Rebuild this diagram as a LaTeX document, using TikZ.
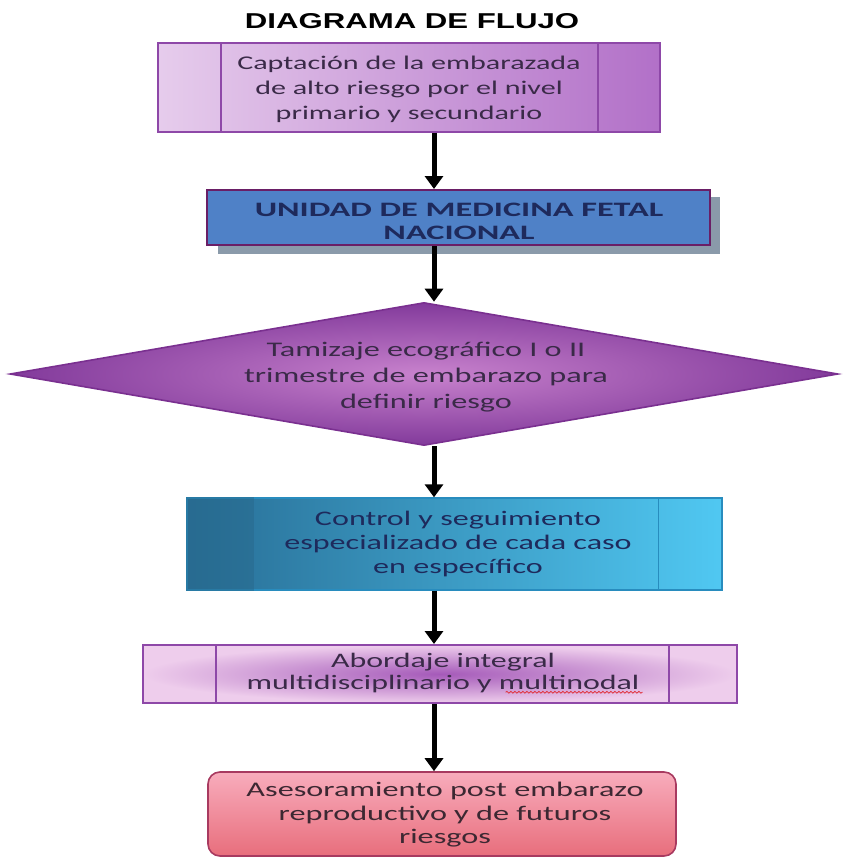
\documentclass[tikz,border=0pt]{standalone}
\usepackage{fontspec}
\usetikzlibrary{arrows.meta,shapes.geometric,calc,decorations.pathmorphing}
\newfontfamily\bodyfont{Carlito}[FakeStretch=1.55]
\newfontfamily\capsfont{Carlito}[FakeStretch=1.67]
\newfontfamily\titlefont{Liberation Sans}[FakeStretch=1.45]
\definecolor{txtpurple}{HTML}{3A2A48}
\definecolor{txtnavy}{HTML}{1E2A5C}
\definecolor{purpborder}{HTML}{8E48A8}
\definecolor{b1left}{HTML}{E6CCEC}
\definecolor{b1right}{HTML}{B270C8}
\definecolor{b2fill}{HTML}{4F81C7}
\definecolor{b2border}{HTML}{6A1E66}
\definecolor{b2shadow}{HTML}{8A9AAA}
\definecolor{dborder}{HTML}{7A3090}
\definecolor{dinner}{HTML}{C882CD}
\definecolor{douter}{HTML}{823A9B}
\definecolor{b4border}{HTML}{288CBE}
\definecolor{b4left}{HTML}{286E96}
\definecolor{b4right}{HTML}{50C8F2}
\definecolor{b4strip}{HTML}{28698C}
\definecolor{b5inner}{HTML}{A55AB9}
\definecolor{b5outer}{HTML}{EECDEC}
\definecolor{b6border}{HTML}{A83A60}
\definecolor{b6top}{HTML}{F8ACBC}
\definecolor{b6bottom}{HTML}{E86E7C}
\definecolor{b6text}{HTML}{3C2832}
\definecolor{spellred}{HTML}{E0303A}
\tikzset{
  arr/.style={line width=5pt,-{Triangle[width=18pt,length=13pt]}},
  boxtext/.style={align=center,inner sep=0pt},
}
\begin{document}
\begin{tikzpicture}[x=1pt,y=-1pt]
\useasboundingbox (0,0) rectangle (845,860);
\coordinate (axis) at (434,0);
% title
\node (title) at (412,21) {\titlefont\bfseries\fontsize{21.5}{24}\selectfont DIAGRAMA DE FLUJO};
% box 1 predefined process
\node[draw=purpborder,line width=1.6pt,left color=b1left,right color=b1right,
  minimum width=502pt,minimum height=89pt,inner sep=0pt] (b1) at (409,87.5) {};
\draw[purpborder,line width=1.6pt] ($(b1.north west)+(64,0)$) -- ($(b1.south west)+(64,0)$);
\draw[purpborder,line width=1.6pt] ($(b1.north east)+(-63,0)$) -- ($(b1.south east)+(-63,0)$);
\node[boxtext,text=txtpurple,font=\bodyfont\fontsize{19.4}{25}\selectfont] (t1) at (409,89) {Captación de la embarazada\\de alto riesgo por el nivel\\primario y secundario};
% box 2
\fill[b2shadow] (218,197) rectangle (720,254);
\node[draw=b2border,line width=2pt,fill=b2fill,
  minimum width=503pt,minimum height=55pt,inner sep=0pt] (b2) at (458.5,217.5) {};
\node[boxtext,text=txtnavy,font=\capsfont\bfseries\fontsize{20.5}{23}\selectfont] (t2) at (459,221) {UNIDAD DE MEDICINA FETAL\\NACIONAL};
% diamond
\node[diamond,draw=dborder,line width=1.6pt,inner color=dinner,outer color=douter,
  minimum width=828pt,minimum height=143pt,inner sep=0pt,aspect=5.8] (d) at (424,374) {};
\node[boxtext,text=txtpurple,font=\bodyfont\fontsize{20.8}{26}\selectfont] (t3) at (426,377) {Tamizaje ecográfico I o II\\trimestre de embarazo para\\definir riesgo};
% box 4
\node[draw=b4border,line width=1.4pt,left color=b4left,right color=b4right,
  minimum width=535pt,minimum height=92pt,inner sep=0pt] (b4) at (454.5,544) {};
\fill[b4strip,opacity=0.5] (b4.north west) rectangle ($(b4.south west)+(68,0)$);
\draw[b4border,line width=1.4pt] ($(b4.north east)+(-64,0)$) -- ($(b4.south east)+(-64,0)$);
\node[boxtext,text=txtnavy,font=\bodyfont\fontsize{20.7}{24}\selectfont] (t4) at (458,544) {Control y seguimiento\\especializado de cada caso\\en específico};
% box 5
\node[draw=purpborder,line width=2pt,inner color=b5inner,outer color=b5outer,
  minimum width=594pt,minimum height=58pt,inner sep=0pt] (b5) at (440,674) {};
\draw[purpborder,line width=2pt] ($(b5.north west)+(74,0)$) -- ($(b5.south west)+(74,0)$);
\draw[purpborder,line width=2pt] ($(b5.north east)+(-69,0)$) -- ($(b5.south east)+(-69,0)$);
\node[boxtext,text=txtpurple,font=\bodyfont\fontsize{20.6}{22.5}\selectfont] (t5) at (443,673) {Abordaje integral\\multidisciplinario y multinodal};
\draw[spellred,line width=0.8pt,decorate,decoration={snake,amplitude=0.9pt,segment length=4pt}]
  ($(t5.south east)+(-134,-1)$) -- ($(t5.south east)+(3,-1)$);
% box 6
\node[draw=b6border,line width=1.6pt,rounded corners=12pt,top color=b6top,bottom color=b6bottom,
  minimum width=468pt,minimum height=84pt,inner sep=0pt] (b6) at (442,814) {};
\node[boxtext,text=b6text,font=\bodyfont\fontsize{20.8}{23.5}\selectfont] (t6) at (445,815) {Asesoramiento post embarazo\\reproductivo y de futuros\\riesgos};
% arrows
\draw[arr] (b1.south -| axis) -- (b2.north -| axis);
\draw[arr] (b2.south -| axis) -- (d.north -| axis);
\draw[arr] (d.south -| axis) -- (b4.north -| axis);
\draw[arr] (b4.south -| axis) -- (b5.north -| axis);
\draw[arr] (b5.south -| axis) -- (b6.north -| axis);
\end{tikzpicture}
\end{document}
